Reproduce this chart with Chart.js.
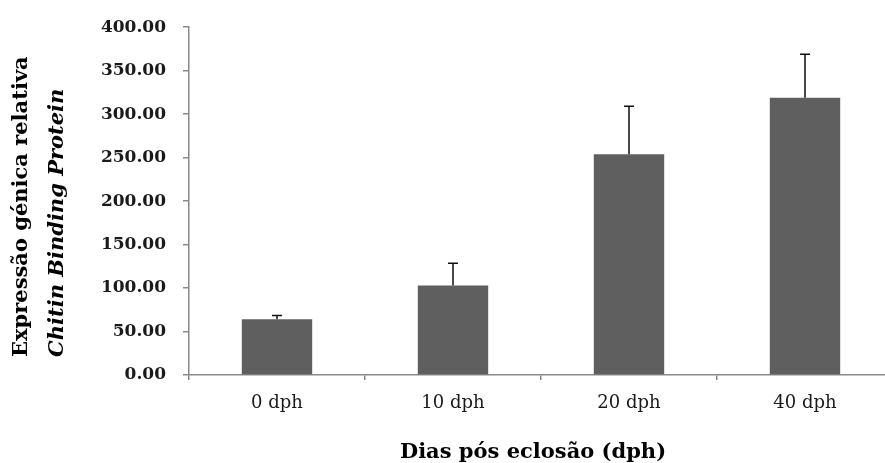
<!DOCTYPE html>
<html><head><meta charset="utf-8">
<script src="https://cdn.jsdelivr.net/npm/chart.js@4"></script>
<style>html,body{margin:0;padding:0;overflow:hidden;background:#fff}#wrap{width:893px;height:463px;position:relative}</style>
</head><body><div id="wrap"><canvas id="c"></canvas></div>
<script>
const categories = ['0 dph', '10 dph', '20 dph', '40 dph'];
const values = [64, 103, 254, 319];
const errors = [4.5, 25.5, 55, 50];
const yMin = 0, yMax = 400, yStep = 50;
const xTitle = 'Dias pós eclosão (dph)';
const yTitleLine1 = 'Expressão génica relativa';
const yTitleLine2 = 'Chitin Binding Protein';

const axisColor = '#8a8a8a';

const errorBars = {
  id: 'errorBars',
  afterDatasetsDraw(chart) {
    const ctx = chart.ctx;
    const meta = chart.getDatasetMeta(0);
    const ys = chart.scales.y;
    ctx.save();
    ctx.strokeStyle = '#111';
    ctx.lineWidth = 1.5;
    meta.data.forEach((bar, i) => {
      const x = bar.x;
      const y0 = ys.getPixelForValue(values[i]);
      const y1 = ys.getPixelForValue(values[i] + errors[i]);
      ctx.beginPath();
      ctx.moveTo(x, y0);
      ctx.lineTo(x, y1);
      ctx.moveTo(x - 5, y1);
      ctx.lineTo(x + 5, y1);
      ctx.stroke();
    });
    ctx.restore();
  }
};

const titles = {
  id: 'titles',
  afterDraw(chart) {
    const ctx = chart.ctx;
    ctx.save();
    ctx.fillStyle = '#000';
    ctx.font = 'bold 21px "DejaVu Serif"';
    ctx.textAlign = 'center';
    ctx.textBaseline = 'alphabetic';
    ctx.fillText(xTitle, 533, 458);
    ctx.translate(0, 357);
    ctx.rotate(-Math.PI / 2);
    ctx.textAlign = 'left';
    ctx.fillText(yTitleLine1, 0, 27);
    ctx.font = 'italic bold 21px "DejaVu Serif"';
    ctx.fillText(yTitleLine2, 0, 63);
    ctx.restore();
  }
};

new Chart(document.getElementById('c'), {
  type: 'bar',
  data: {
    labels: categories,
    datasets: [{
      data: values,
      backgroundColor: '#5f5f5f',
      borderWidth: 0,
      barPercentage: 0.4,
      categoryPercentage: 1.0
    }]
  },
  options: {
    responsive: true,
    maintainAspectRatio: false,
    animation: false,
    devicePixelRatio: 1,
    layout: { padding: { top: 25, right: 0, bottom: 0, left: 0 } },
    plugins: { legend: { display: false }, tooltip: { enabled: false } },
    scales: {
      x: {
        grid: { display: true, drawOnChartArea: false, drawTicks: true, tickLength: 5, color: axisColor, lineWidth: 1.5 },
        border: { display: true, color: axisColor, width: 1.5 },
        ticks: { font: { family: 'DejaVu Serif', size: 18 }, color: '#1a1a1a', padding: 13 },
        afterFit(s) { s.height = 88; }
      },
      y: {
        min: yMin, max: yMax,
        grid: { display: true, drawOnChartArea: false, drawTicks: true, tickLength: 6, color: axisColor, lineWidth: 1.5 },
        border: { display: true, color: axisColor, width: 1.5 },
        ticks: { stepSize: yStep, font: { family: 'DejaVu Serif', size: 17, weight: 'bold' }, color: '#1a1a1a', padding: 17,
          callback: v => Number(v).toFixed(2) },
        afterFit(s) { s.width = 189; }
      }
    }
  },
  plugins: [errorBars, titles]
});
</script>
</body></html>
